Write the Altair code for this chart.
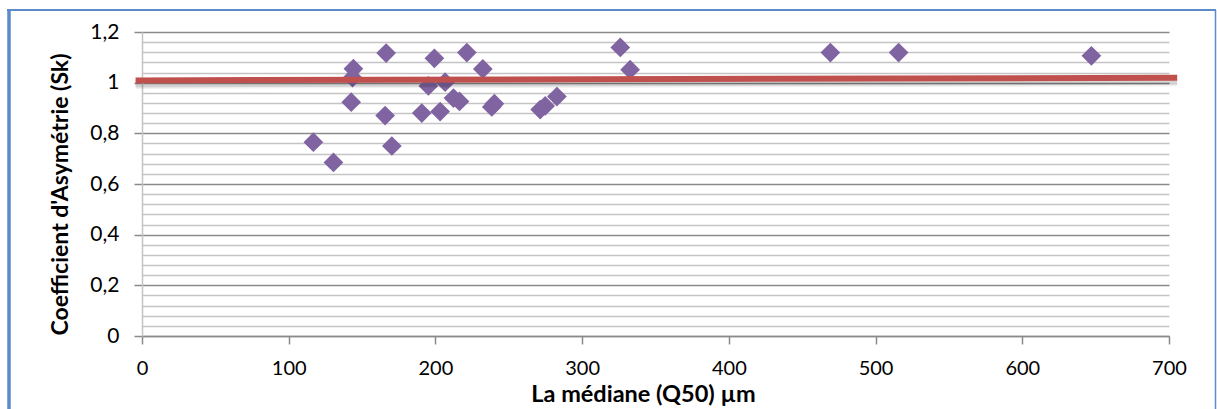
import altair as alt
import pandas as pd

# Median grain size (Q50, µm) and skewness coefficient (Sk) per sample
q50 = [116.8, 130.5, 144.1, 143.5, 142.6, 166.4, 165.7, 170.3, 199.3, 195.2,
       206.6, 190.7, 203.2, 212.3, 216.4, 221.4, 232.3, 238.4, 240.2, 271.4,
       274.8, 282.8, 326.0, 332.7, 469.2, 515.7, 647.1]
sk = [0.765, 0.685, 1.055, 1.020, 0.923, 1.117, 0.870, 0.750, 1.096, 0.987,
      1.002, 0.880, 0.886, 0.939, 0.926, 1.119, 1.054, 0.904, 0.917, 0.894,
      0.908, 0.945, 1.139, 1.051, 1.119, 1.119, 1.106]

# Reference line around Sk = 1 (end points)
ref_x = [-4.4, 705.6]
ref_y = [1.009, 1.019]

# Axis ticks
x_ticks = [0, 100, 200, 300, 400, 500, 600, 700]
y_grid = [round(i * 0.04, 2) for i in range(31)]  # minor gridlines every 0.04

FONT = "Lato"
PURPLE = "#8064a2"
RED = "#c0504d"
MAJOR = "#8a8a8a"
MINOR = "#c4c4c4"
FRAME = "#5b8bc8"

W, H = 1027, 304

pts = pd.DataFrame({"q50": q50, "sk": sk})
ref = pd.DataFrame({"x": ref_x, "y": ref_y})

major_test = "abs(datum.value * 5 - round(datum.value * 5)) < 0.001"

x_scale = alt.Scale(domain=[0, 700], nice=False, zero=False)
y_scale = alt.Scale(domain=[0, 1.2], nice=False, zero=False)

x_axis = alt.Axis(
    values=x_ticks, tickCount=len(x_ticks), grid=False, title="La médiane (Q50) µm",
    labelFont=FONT, labelFontSize=20, labelColor="#000000", labelPadding=14,
    labelFlush=False,
    titleFont=FONT, titleFontSize=23.5, titleFontWeight="bold", titleColor="#000000",
    titleX=501, titleY=58, titleBaseline="middle", titleAnchor="middle",
    titleAlign="center",
    domainColor=MAJOR, domainWidth=1.5, tickColor=MAJOR, tickWidth=1.5, tickSize=8,
    labelOverlap=False,
)

y_axis = alt.Axis(
    values=y_grid, tickCount=len(y_grid), grid=True,
    gridColor=alt.condition(major_test, alt.value(MAJOR), alt.value(MINOR)),
    gridWidth=1.6,
    tickOpacity=alt.condition(major_test, alt.value(1), alt.value(0)),
    labelExpr=f"{major_test} ? replace(format(datum.value, '.1~f'), '.', ',') : ''",
    labelFont=FONT, labelFontSize=21, labelColor="#000000", labelPadding=15,
    labelOverlap=False, labelFlush=False,
    title="Coefficient d'Asymétrie (Sk)",
    titleFont=FONT, titleFontSize=23, titleFontWeight="bold", titleColor="#000000",
    titleX=-82, titleY=162, titleAngle=270, titleAlign="center",
    titleBaseline="middle",
    domainColor=MINOR, domainWidth=1.5, tickColor=MAJOR, tickWidth=1.5, tickSize=8,
)

points = alt.Chart(pts).mark_point(
    shape="diamond", filled=True, size=390, color=PURPLE, opacity=1
).encode(
    x=alt.X("q50:Q", scale=x_scale, axis=x_axis),
    y=alt.Y("sk:Q", scale=y_scale, axis=y_axis),
)

def ref_layer(offset, color, width, opacity):
    return alt.Chart(ref).mark_line(
        color=color, strokeWidth=width, opacity=opacity, strokeCap="butt",
        yOffset=offset, clip=False,
    ).encode(
        x=alt.X("x:Q", scale=x_scale),
        y=alt.Y("y:Q", scale=y_scale),
    )

shadow1 = ref_layer(4, "#000000", 6, 0.12)
shadow2 = ref_layer(6, "#000000", 5, 0.06)
ref_line = ref_layer(0, RED, 6, 1)

one = alt.Data(values=[{"k": 0}])
frame_left = alt.Chart(one).mark_rule(color=FRAME, strokeWidth=3.5).encode(
    x=alt.value(-133), y=alt.value(-22), y2=alt.value(390))
frame_top = alt.Chart(one).mark_rule(color=FRAME, strokeWidth=2).encode(
    x=alt.value(-135), x2=alt.value(1074), y=alt.value(-22))
frame_right = alt.Chart(one).mark_rule(color=FRAME, strokeWidth=1.5).encode(
    x=alt.value(1073.5), y=alt.value(-22), y2=alt.value(390))

chart = alt.layer(
    points, shadow2, shadow1, ref_line, frame_left, frame_top, frame_right
).properties(
    width=W, height=H,
    autosize=alt.AutoSizeParams(type="none"),
    padding={"left": 142, "top": 32, "right": 48, "bottom": 73},
    background="#ffffff",
).configure_view(stroke=None)

chart.save("out.html", embed_options={"renderer": "svg", "actions": False})
